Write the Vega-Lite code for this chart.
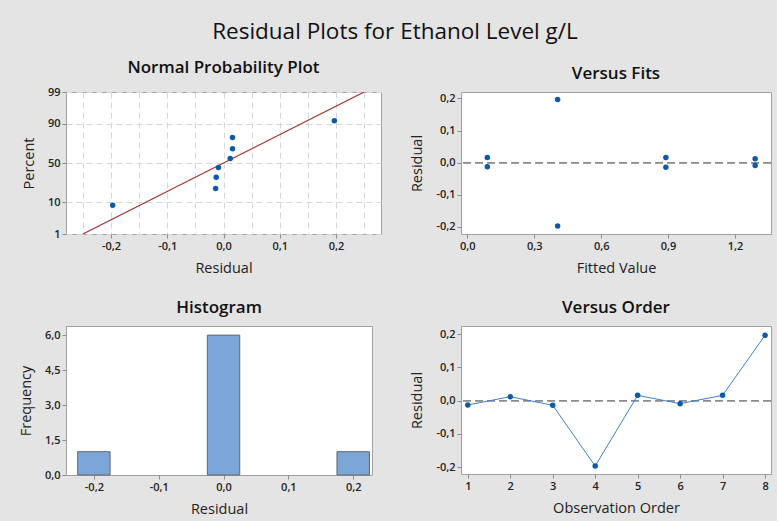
{
  "$schema": "https://vega.github.io/schema/vega-lite/v6.json",
  "background": "#e4e4e4",
  "padding": {"left": 17, "top": 21, "right": 5, "bottom": 5},
  "title": {"text": "Residual Plots for Ethanol Level g/L", "font": "Open Sans", "fontSize": 22.5, "fontWeight": 500, "color": "#111111", "anchor": "middle", "offset": 15},
  "config": {
    "locale": {"number": {"decimal": ",", "thousands": ".", "grouping": [3], "currency": ["", ""], "minus": "-"}},
    "view": {"stroke": "#a0a0a0", "fill": "#ffffff"},
    "axis": {"labelFont": "Open Sans", "labelFontSize": 11, "labelFontWeight": 600, "labelColor": "#222222", "labelOverlap": false, "titleFont": "Open Sans", "titleFontSize": 14.5, "titleFontWeight": 500, "titleColor": "#222222", "tickColor": "#8c8c8c", "tickSize": 4, "labelPadding": 2, "domain": false, "grid": false},
    "axisX": {"titlePadding": 10},
    "axisY": {"titlePadding": 11},
    "title": {"font": "Open Sans", "fontSize": 17, "fontWeight": 600, "color": "#111111"}
  },
  "datasets": {
    "obs": [
      {"order": 1, "fit": 0.09, "residual": -0.013},
      {"order": 2, "fit": 1.29, "residual": 0.012},
      {"order": 3, "fit": 0.89, "residual": -0.014},
      {"order": 4, "fit": 0.405, "residual": -0.197},
      {"order": 5, "fit": 0.09, "residual": 0.016},
      {"order": 6, "fit": 1.29, "residual": -0.009},
      {"order": 7, "fit": 0.89, "residual": 0.016},
      {"order": 8, "fit": 0.405, "residual": 0.197}
    ],
    "npp": [
      {"residual": -0.197, "percent": 8.33, "z": -1.383},
      {"residual": -0.014, "percent": 20.24, "z": -0.833},
      {"residual": -0.013, "percent": 32.14, "z": -0.464},
      {"residual": -0.009, "percent": 44.05, "z": -0.15},
      {"residual": 0.012, "percent": 55.95, "z": 0.15},
      {"residual": 0.016, "percent": 67.86, "z": 0.464},
      {"residual": 0.016, "percent": 79.76, "z": 0.833},
      {"residual": 0.197, "percent": 91.67, "z": 1.383}
    ],
    "fitline": [
      {"residual": -0.25, "percent": 1, "z": -2.326},
      {"residual": 0.25, "percent": 99, "z": 2.326}
    ],
    "hist": [
      {"bin_start": -0.225, "bin_end": -0.175, "frequency": 1},
      {"bin_start": -0.025, "bin_end": 0.025, "frequency": 6},
      {"bin_start": 0.175, "bin_end": 0.225, "frequency": 1}
    ]
  },
  "columns": 2,
  "align": "all",
  "spacing": {"row": 16, "column": 27},
  "concat": [
    {
      "width": 315, "height": 142,
      "title": {"text": "Normal Probability Plot", "frame": "group", "baseline": "alphabetic", "offset": -4},
      "layer": [
        {
          "data": {"name": "fitline"},
          "mark": {"type": "line", "color": "#a8302f", "strokeWidth": 1.2, "clip": true},
          "encoding": {
            "x": {"field": "residual", "type": "quantitative", "scale": {"domain": [-0.28, 0.28], "nice": false, "zero": false},
              "axis": {"title": "Residual", "values": [-0.25, -0.2, -0.15, -0.1, -0.05, 0, 0.05, 0.1, 0.15, 0.2, 0.25], "tickCount": 50,
                "labelExpr": "round(datum.value*100) % 10 === 0 ? format(datum.value, '.1f') : ''",
                "tickOpacity": {"condition": {"test": "round(datum.value*100) % 10 === 0", "value": 1}, "value": 0},
                "grid": true, "gridDash": [6, 4], "gridColor": "#d6d6d6"}},
            "y": {"field": "z", "type": "quantitative", "scale": {"domain": [-2.326, 2.326], "nice": false, "zero": false},
              "axis": {"title": "Percent", "values": [-2.326, -1.2816, 0, 1.2816, 2.326], "tickCount": 50,
                "labelExpr": "datum.value < -2 ? '1' : datum.value < -1 ? '10' : datum.value < 1 ? '50' : datum.value < 2 ? '90' : '99'",
                "grid": true, "gridDash": [6, 4], "gridColor": "#d6d6d6"}}
          }
        },
        {
          "data": {"name": "npp"},
          "mark": {"type": "circle", "color": "#0b59a8", "opacity": 1, "size": 30},
          "encoding": {
            "x": {"field": "residual", "type": "quantitative"},
            "y": {"field": "z", "type": "quantitative"}
          }
        }
      ]
    },
    {
      "width": 310, "height": 142,
      "title": {"text": "Versus Fits", "frame": "group", "baseline": "alphabetic", "offset": -4},
      "data": {"name": "obs"},
      "layer": [
        {
          "mark": {"type": "rule", "color": "#8c8c8c", "strokeDash": [8, 4], "strokeWidth": 1},
          "encoding": {"y": {"datum": 0, "type": "quantitative"}}
        },
        {
          "mark": {"type": "circle", "color": "#0b59a8", "opacity": 1, "size": 30},
          "encoding": {
            "x": {"field": "fit", "type": "quantitative", "scale": {"domain": [-0.028, 1.361], "nice": false, "zero": false},
              "axis": {"title": "Fitted Value", "values": [0, 0.3, 0.6, 0.9, 1.2], "tickCount": 50, "format": ".1f"}},
            "y": {"field": "residual", "type": "quantitative", "scale": {"domain": [-0.222, 0.22], "nice": false, "zero": false},
              "axis": {"title": "Residual", "values": [-0.2, -0.1, 0, 0.1, 0.2], "tickCount": 50, "format": ".1f"}}
          }
        }
      ]
    },
    {
      "width": 306, "height": 149,
      "title": {"text": "Histogram", "frame": "group", "baseline": "alphabetic", "offset": -4},
      "data": {"name": "hist"},
      "mark": {"type": "bar", "fill": "#7ca6d8", "stroke": "#666666", "strokeWidth": 1},
      "encoding": {
        "x": {"field": "bin_start", "type": "quantitative", "scale": {"domain": [-0.243, 0.229], "nice": false, "zero": false},
          "axis": {"title": "Residual", "values": [-0.2, -0.1, 0, 0.1, 0.2], "tickCount": 50, "format": ".1f"}},
        "x2": {"field": "bin_end"},
        "y": {"field": "frequency", "type": "quantitative", "scale": {"domain": [0, 6.39], "nice": false},
          "axis": {"title": "Frequency", "values": [0, 1.5, 3, 4.5, 6], "tickCount": 50, "format": ".1f"}},
        "y2": {"datum": 0}
      }
    },
    {
      "width": 310, "height": 148,
      "title": {"text": "Versus Order", "frame": "group", "baseline": "alphabetic", "offset": -4},
      "data": {"name": "obs"},
      "layer": [
        {
          "mark": {"type": "rule", "color": "#8c8c8c", "strokeDash": [8, 4], "strokeWidth": 1},
          "encoding": {"y": {"datum": 0, "type": "quantitative"}}
        },
        {
          "mark": {"type": "line", "color": "#3f80c9", "strokeWidth": 1},
          "encoding": {
            "x": {"field": "order", "type": "quantitative", "scale": {"domain": [0.84, 8.14], "nice": false, "zero": false},
              "axis": {"title": "Observation Order", "values": [1, 2, 3, 4, 5, 6, 7, 8], "tickCount": 50, "format": "d"}},
            "y": {"field": "residual", "type": "quantitative", "scale": {"domain": [-0.221, 0.225], "nice": false, "zero": false},
              "axis": {"title": "Residual", "values": [-0.2, -0.1, 0, 0.1, 0.2], "tickCount": 50, "format": ".1f"}}
          }
        },
        {
          "mark": {"type": "circle", "color": "#0b59a8", "opacity": 1, "size": 30},
          "encoding": {
            "x": {"field": "order", "type": "quantitative"},
            "y": {"field": "residual", "type": "quantitative"}
          }
        }
      ]
    }
  ]
}
